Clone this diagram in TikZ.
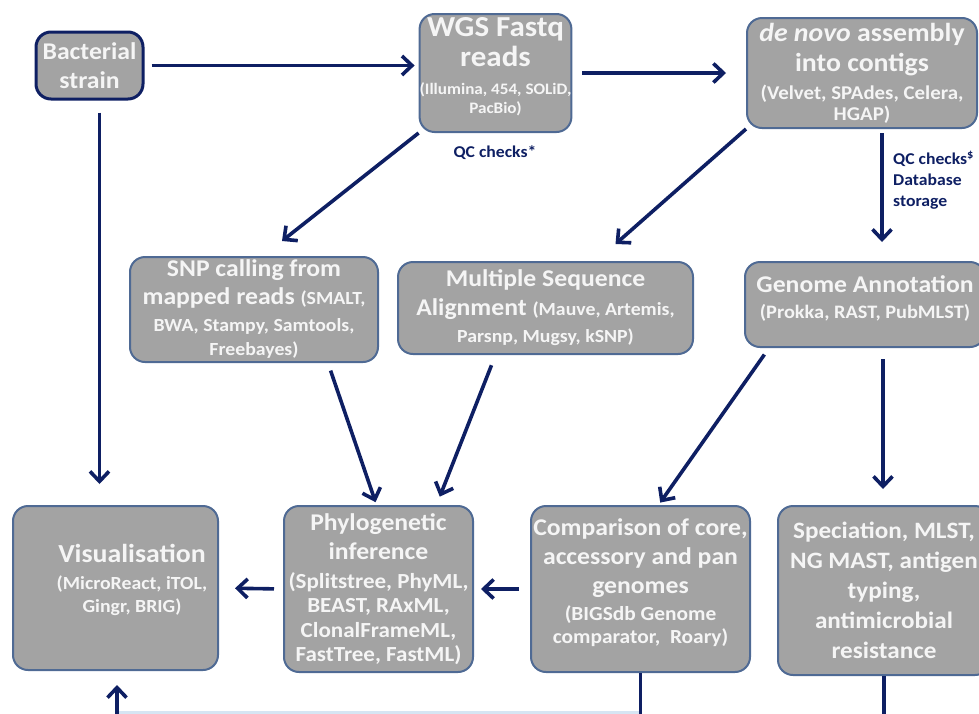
\documentclass[tikz,border=0pt]{standalone}
\usepackage{fontspec}
\setmainfont{Carlito}[FakeStretch=1.07]
\usepackage{xcolor,tikz}
\usetikzlibrary{positioning,calc,arrows.meta}
\definecolor{wgsBoxFill}{HTML}{A3A3A3}
\definecolor{wgsBoxEdge}{HTML}{4F6A94}
\definecolor{wgsNavy}{HTML}{0E1F63}
\definecolor{wgsText}{HTML}{F5F5F5}
\definecolor{wgsBus}{HTML}{D6E5F3}
\newcommand\boxhead[1]{\fontsize{#1}{29}\selectfont}
\newcommand\boxsub[1]{\fontsize{#1}{#1}\selectfont}
\tikzset{
  stage box/.style={
    draw=wgsBoxEdge, line width=2pt, fill=wgsBoxFill, rounded corners=15pt,
    text=wgsText, font=\bfseries\boxhead{24}, align=center, inner sep=0pt,
  },
  box text/.style={text=wgsText, font=\bfseries\boxhead{24}, align=center, inner sep=0pt},
  flow arrow/.style={
    -{Straight Barb[length=10pt, width=19pt, line width=3.6pt]},
    wgsNavy, line width=3.6pt,
  },
  flow line/.style={wgsNavy, line width=3.6pt},
  qc label/.style={text=wgsNavy, font=\bfseries\fontsize{16.5}{21}\selectfont, inner sep=0pt},
}

\begin{document}
\begin{tikzpicture}[x=1pt, y=-1pt]
\useasboundingbox (0,0) rectangle (979,713);

% Top row
\node[stage box, draw=wgsNavy, line width=3pt, minimum width=107pt, minimum height=67pt]
  (strain) at (89.5,65.5) {Bacterial\\strain};
\node[stage box, font=\bfseries\fontsize{29}{30}\selectfont, text depth=15pt, minimum width=151pt, minimum height=118pt]
  (reads) at (495.5,73)
  {WGS Fastq\\reads\\[-2pt]{\boxsub{16}(Illumina, 454, SOLiD,}\\[-11pt]{\boxsub{16}PacBio)}};
\node[stage box, font=\bfseries\fontsize{26}{30}\selectfont, minimum width=230pt, minimum height=110pt]
  (assembly) at (862,73)
  {{\itshape de novo} assembly\\into contigs\\[-2pt]{\boxsub{19.5}(Velvet, SPAdes, Celera,}\\[-9pt]{\boxsub{19.5}HGAP)}};

% Middle row
\node[stage box, minimum width=248pt, minimum height=105pt] (snp) at (254,309.5)
  {SNP calling from\\[-1pt]mapped reads {\boxsub{18.5}(SMALT,}\\[-2pt]{\boxsub{18.5}BWA, Stampy, Samtools,}\\[-5pt]{\boxsub{18.5}Freebayes)}};
\node[stage box, minimum width=295pt, minimum height=92pt] (msa) at (545.5,308)
  {Multiple Sequence\\Alignment {\boxsub{18.5}(Mauve, Artemis,}\\[-2pt]{\boxsub{18.5}Parsnp, Mugsy, kSNP)}};
\node[stage box, font=\bfseries\boxhead{24}, text depth=15pt, minimum width=240pt, minimum height=85pt]
  (annot) at (865,304.5)
  {Genome Annotation\\[-3pt]{\boxsub{19}(Prokka, RAST, PubMLST)}};

% Bottom row
\node[stage box, minimum width=205pt, minimum height=164pt] (vis) at (115.5,588) {};
\node[box text, font=\bfseries\boxhead{26}] (vistext) at (132,580)
  {Visualisation\\[-2pt]{\boxsub{18.5}(MicroReact, iTOL,}\\[-6pt]{\boxsub{18.5}Gingr, BRIG)}};
\node[stage box, minimum width=189pt, minimum height=166pt] (phylo) at (378.5,589)
  {Phylogenetic\\inference\\{\boxsub{21.5}(Splitstree, PhyML,}\\[-5pt]{\boxsub{21.5}BEAST, RAxML,}\\[-4pt]{\boxsub{21.5}ClonalFrameML,}\\[-5pt]{\boxsub{21.5}FastTree, FastML)}};
\node[stage box, text depth=15pt, minimum width=219pt, minimum height=166pt] (comp) at (640.5,589)
  {Comparison of core,\\accessory and pan\\genomes\\[-2pt]{\boxsub{20}(BIGSdb Genome}\\[-6pt]{\boxsub{20}comparator,~~Roary)}};
\node[stage box, font=\bfseries\fontsize{23.5}{30}\selectfont, minimum width=212pt, minimum height=169pt]
  (spec) at (884,590.5)
  {Speciation, MLST,\\NG MAST, antigen\\typing,\\antimicrobial\\resistance};

% Side labels
\node[qc label] (qcreads) at (495,153) {QC checks*};
\node[qc label, anchor=north west, align=left] (qcstore) at (893,151)
  {QC checks\textsuperscript{\$}\\Database\\storage};

% Connectors
\draw[flow arrow, shorten <=7pt, shorten >=4pt] (strain.east) -- (strain.east -| reads.west);
\draw[flow arrow, shorten <=10pt, shorten >=20pt] (reads.east) -- (assembly.west);
\draw[flow arrow, shorten <=12pt, shorten >=21pt] ([xshift=10pt]strain.south) -- ([xshift=-16pt]vis.north);
\draw[flow arrow] (reads.south west) -- ([xshift=28pt, yshift=15pt]snp.north);
\draw[flow arrow] (assembly.south west) -- ([xshift=70pt, yshift=17pt]msa.north);
\draw[flow arrow, shorten <=4pt, shorten >=19pt] ([xshift=20pt]assembly.south) -- ([xshift=20pt]assembly.south |- annot.north);
\draw[flow arrow, shorten <=8pt, shorten >=3pt] ([xshift=74pt]snp.south) -- ([xshift=-2pt]phylo.north);
\draw[flow arrow, shorten <=11pt, shorten >=9pt] ([xshift=-50pt]msa.south) -- ([xshift=58pt]phylo.north);
\draw[flow arrow, shorten <=8pt, shorten >=3pt] ([xshift=-96pt]annot.south) -- ([xshift=18pt]comp.north);
\draw[flow arrow, shorten <=11pt, shorten >=16pt] ([xshift=18pt]annot.south) -- ([xshift=18pt]annot.south |- spec.north);
\draw[flow arrow, shorten <=9pt, shorten >=16pt] (phylo.west) -- (vis.east);
\draw[flow arrow, shorten <=11pt, shorten >=7pt] (comp.west) -- (phylo.east);

% Feedback into visualisation (runs off the bottom edge)
\coordinate (visIn) at (117,716);
\coordinate (compOut) at (640.5,716);
\coordinate (specOut) at (884,716);
\draw[wgsBus, line width=3pt] ([yshift=4pt]visIn) -- ([yshift=4pt]compOut);
\draw[flow line] (comp.south) -- (compOut);
\draw[flow line] (spec.south) -- (specOut);
\draw[flow arrow, shorten >=14pt] (visIn) -- ([xshift=1.5pt]vis.south);
\end{tikzpicture}
\end{document}
